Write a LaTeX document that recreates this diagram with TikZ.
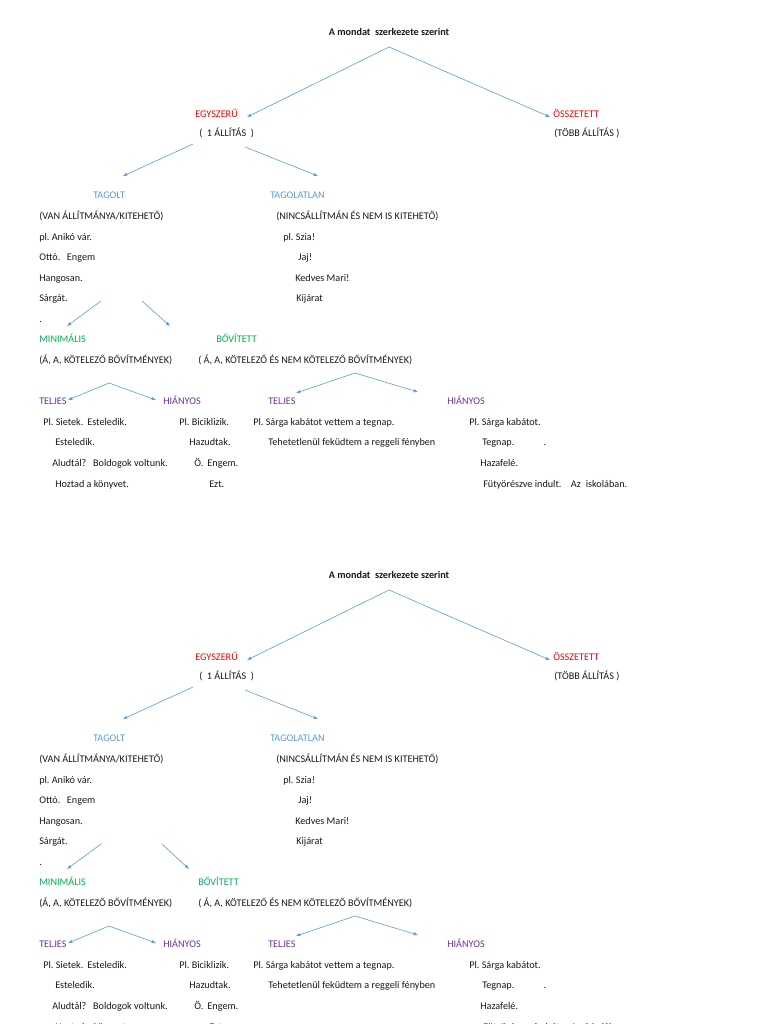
\documentclass[tikz,border=0pt]{standalone}
\usepackage{fontspec}
\setmainfont{Carlito}
\usetikzlibrary{arrows.meta}
\frenchspacing
\definecolor{cred}{HTML}{FF0000}
\definecolor{cblue}{HTML}{5B9BD5}
\definecolor{cgreen}{HTML}{00B050}
\definecolor{cpurple}{HTML}{7030A0}
\definecolor{carrow}{HTML}{5B9BD5}
\tikzset{
  txt/.style={anchor=base west, inner sep=0pt, font=\fontsize{7.65}{9}\selectfont, text=black!90},
  ttl/.style={anchor=base, inner sep=0pt, font=\fontsize{7.65}{9}\selectfont\bfseries, text=black!90},
  redt/.style={txt, text=cred},
  bluet/.style={txt, text=cblue},
  greent/.style={txt, text=cgreen},
  purplet/.style={txt, text=cpurple},
  arr/.style={draw=carrow, line width=0.45pt, -{Latex[length=3.2pt,width=2.6pt]}},
}
\newcommand\treecopy[5]{%
\begin{scope}[shift={(0,#2)}]
\node[ttl] (#1title) at (389,35.5) {A mondat\ \ szerkezete szerint};
\coordinate (#1o) at (389,47);
\node[redt] (#1egy) at (195,117.5) {EGYSZERŰ};
\node[txt] (#1egyp) at (199,136.5) {(\ \ 1 ÁLLÍTÁS\ \ )};
\node[redt] (#1ossz) at (553,117.5) {ÖSSZETETT};
\node[txt] (#1osszp) at (554,136.5) {(TÖBB ÁLLÍTÁS )};
\coordinate (#1egyt) at (247,117);
\coordinate (#1osszt) at (550,117);
\draw[arr] (#1o) -- (#1egyt);
\draw[arr] (#1o) -- (#1osszt);
% level 2
\coordinate (#1e1) at (193,144);
\coordinate (#1e2) at (245,147);
\coordinate (#1tagt) at (123,176);
\coordinate (#1tagl) at (318,176);
\draw[arr] (#1e1) -- (#1tagt);
\draw[arr] (#1e2) -- (#1tagl);
\node[bluet] (#1tag) at (93,198.5) {TAGOLT};
\node[bluet] (#1tagn) at (270,198.5) {TAGOLATLAN};
\node[txt] (#1tagp) at (39,219.5) {(VAN ÁLLÍTMÁNYA/KITEHETŐ)};
\node[txt] (#1tagnp) at (276,219.5) {(NINCSÁLLÍTMÁN ÉS NEM IS KITEHETŐ)};
\node[txt] (#1l1) at (39,240.5) {pl. Anikó vár.};
\node[txt] (#1l2) at (39,260.5) {Ottó.\hspace{5pt}Engem};
\node[txt] (#1l3) at (39,281.5) {Hangosan.};
\node[txt] (#1l4) at (39,301.5) {Sárgát.};
\node[txt] (#1l5) at (39,322) {.};
\node[txt] (#1r1) at (283,240.5) {pl. Szia!};
\node[txt] (#1r2) at (298,260.5) {Jaj!};
\node[txt] (#1r3) at (295,281.5) {Kedves Mari!};
\node[txt] (#1r4) at (296,301.5) {Kijárat};
% level 3
\coordinate (#1s1) at (101,301);
\coordinate (#1s2) at (#3,301);
\coordinate (#1mint) at (67,326);
\coordinate (#1bovt) at (#4,326);
\draw[arr] (#1s1) -- (#1mint);
\draw[arr] (#1s2) -- (#1bovt);
\node[greent] (#1min) at (39,342.5) {MINIMÁLIS};
\node[greent] (#1bov) at (#5,342.5) {BŐVÍTETT};
\node[txt] (#1minp) at (39,363.5) {(Á, A, KÖTELEZŐ BŐVÍTMÉNYEK)};
\node[txt] (#1bovp) at (198,363.5) {( Á, A, KÖTELEZŐ ÉS NEM KÖTELEZŐ BŐVÍTMÉNYEK)};
% level 4
\coordinate (#1m0) at (109,383);
\coordinate (#1mt) at (68,400);
\coordinate (#1mh) at (156,400);
\draw[arr] (#1m0) -- (#1mt);
\draw[arr] (#1m0) -- (#1mh);
\coordinate (#1b0) at (355,373);
\coordinate (#1bt) at (296,393);
\coordinate (#1bh) at (418,392);
\draw[arr] (#1b0) -- (#1bt);
\draw[arr] (#1b0) -- (#1bh);
\node[purplet] (#1tel1) at (39,404.5) {TELJES};
\node[purplet] (#1hia1) at (163,404.5) {HIÁNYOS};
\node[purplet] (#1tel2) at (268,404.5) {TELJES};
\node[purplet] (#1hia2) at (447,404.5) {HIÁNYOS};
\node[txt] (#1a1) at (43,425.5) {Pl. Sietek.\hspace{3pt}Esteledik.};
\node[txt] (#1a2) at (55,445.5) {Esteledik.};
\node[txt] (#1a3) at (52,466.5) {Aludtál?\hspace{5pt}Boldogok voltunk.};
\node[txt] (#1a4) at (55,487.5) {Hoztad a könyvet.};
\node[txt] (#1b1) at (179,425.5) {Pl. Biciklizik.};
\node[txt] (#1b2) at (189,445.5) {Hazudtak.};
\node[txt] (#1b3) at (194,466.5) {Ö.\hspace{3pt}Engem.};
\node[txt] (#1b4) at (209,487.5) {Ezt.};
\node[txt] (#1c1) at (253,425.5) {Pl. Sárga kabátot vettem a tegnap.};
\node[txt] (#1c2) at (268,445.5) {Tehetetlenül feküdtem a reggeli fényben};
\node[txt] (#1d1) at (469,425.5) {Pl. Sárga kabátot.};
\node[txt] (#1d2) at (482,445.5) {Tegnap.\hspace{22pt}.};
\node[txt] (#1d3) at (480,466.5) {Hazafelé.};
\node[txt] (#1d4) at (483,487.5) {Fütyörészve indult.\hspace{7pt}Az\hspace{2pt} iskolában.};
\end{scope}}
\begin{document}
\begin{tikzpicture}[x=0.75pt,y=-0.75pt]
\useasboundingbox (0,0) rectangle (768,1024);
\clip (0,0) rectangle (768,1024);
\treecopy{a}{0}{142}{170}{216}
\treecopy{b}{543}{162}{189}{198}
\end{tikzpicture}
\end{document}
